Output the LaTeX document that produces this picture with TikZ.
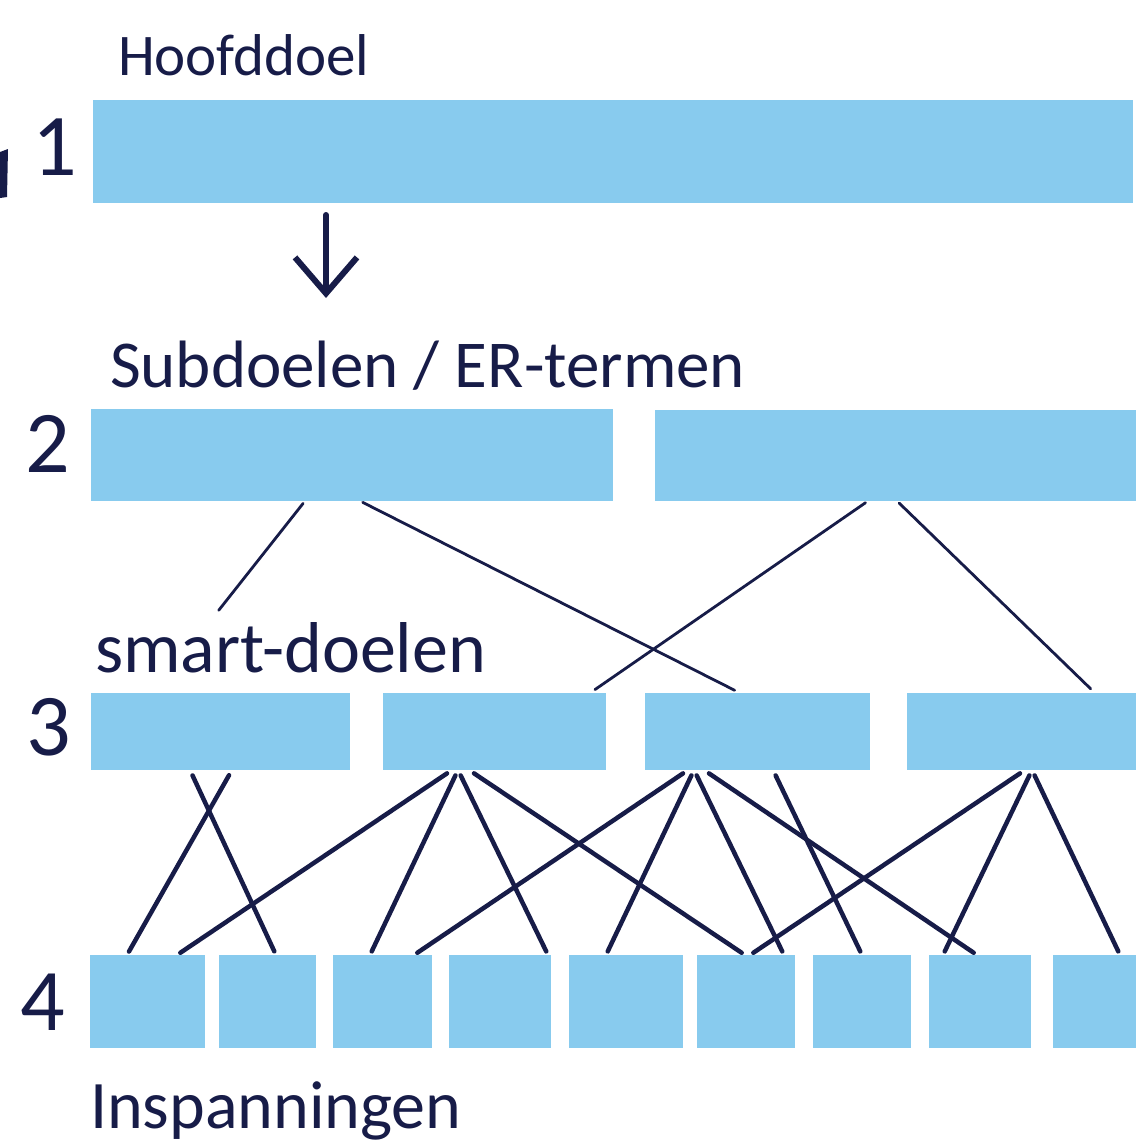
\documentclass[tikz,border=0pt]{standalone}
\usepackage{fontspec}
\setmainfont{Carlito}
\usepackage{tikz}
\usetikzlibrary{arrows.meta}

\definecolor{blauw}{HTML}{88CBEE}
\definecolor{inkt}{HTML}{171C48}

\begin{document}
\begin{tikzpicture}[x=1pt,y=-1pt,
        kop/.style={text=inkt, anchor=base west, font=\fontsize{#1}{#1}\selectfont}]
        \tikzstyle{every node} = [rectangle, inner sep=0pt, outer sep=0pt]
        \tikzstyle{blok} = [fill=blauw, draw=none]
        \tikzstyle{cijfer} = [text=inkt, anchor=base, font=\fontsize{88}{90}\selectfont]
        \tikzstyle{lijn} = [draw=inkt, line width=4.5pt, line cap=round, shorten <=6pt, shorten >=4pt]
        \tikzstyle{dun} = [draw=inkt, line width=2.8pt, line cap=round, shorten <=3pt, shorten >=6pt]
        \useasboundingbox (0,0) rectangle (1136,1148);

        % niveau 1
        \node[blok, minimum width=1040pt, minimum height=103pt] (doel) at (613,151.5) {};
        % niveau 2
        \node[blok, minimum width=522pt, minimum height=92pt] (sub1) at (352,455) {};
        \node[blok, minimum width=481pt, minimum height=91pt] (sub2) at (895.5,455.5) {};
        % niveau 3
        \foreach \naam/\links/\rechts in {s1/91/350, s2/383/606, s3/645/870, s4/907/1136}
            \node[blok, minimum width={(\rechts-\links)*1pt}, minimum height=77pt] (\naam) at ({(\links+\rechts)/2},731.5) {};
        % niveau 4
        \foreach \naam/\links/\rechts in {i1/90/205, i2/219/316, i3/333/432, i4/449/551, i5/569/683,
                                          i6/697/795, i7/813/911, i8/929/1031, i9/1053/1136}
            \node[blok, minimum width={(\rechts-\links)*1pt}, minimum height=93pt] (\naam) at ({(\links+\rechts)/2},1001.5) {};

        \node[kop=59] (hoofd) at (118,75) {Hoofddoel};
        \node[kop=67] (subkop) at (110,387) {Subdoelen / ER-termen};
        \node[kop=72] (smart) at (95,672) {smart-doelen};
        \node[kop=68] (insp) at (90,1128) {Inspanningen};

        \node[cijfer] (n1) at (55,175) {1};
        \node[cijfer] (n2) at (48,472) {2};
        \node[cijfer] (n3) at (49,755) {3};
        \node[cijfer] (n4) at (43,1030) {4};
        \fill[inkt] (0,152) -- (8,149) -- (7,197) -- (0,198) -- cycle;

        \coordinate (pijlpunt) at (326,298);
        \draw[draw=inkt, line width=6pt, line cap=round, shorten <=12pt,
              -{Straight Barb[length=36pt, width=62pt]}] ([xshift=233pt]doel.south west) -- (pijlpunt);

        \coordinate (los) at (215,615);
        \draw[dun] ([xshift=214pt]sub1.south west) -- (los);
        \foreach \from/\a/\to/\b in {sub1/269/s3/95, sub2/213/s2/207, sub2/242/s4/188}
            \draw[dun] ([xshift=\a pt]\from.south west) -- ([xshift=\b pt]\to.north west);

        \foreach \from/\a/\to/\b in {s1/99/i2/57, s1/141/i1/37, s2/69/i1/87, s2/75/i3/37, s2/75/i4/99,
                                     s2/86/i6/48, s3/43/i3/81, s3/49/i5/37, s3/49/i6/87, s3/59/i8/48,
                                     s3/128/i7/49, s4/118/i6/53, s4/125/i8/14, s4/125/i9/67}
            \draw[lijn] ([xshift=\a pt]\from.south west) -- ([xshift=\b pt]\to.north west);
      \end{tikzpicture}
\end{document}
